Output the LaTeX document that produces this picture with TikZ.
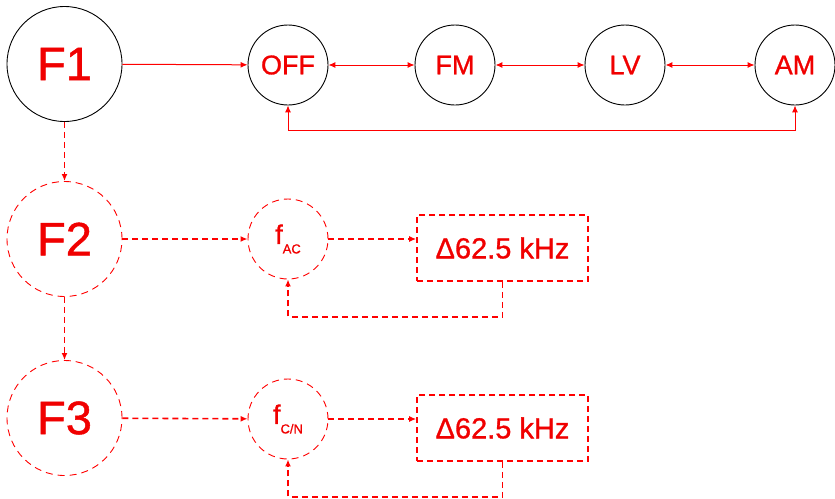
\documentclass[tikz,border=0pt]{standalone}
\usepackage{fontspec}
\setmainfont{Liberation Sans}
\newfontfamily\heavy{Liberation Sans}[FakeBold=1]
\usetikzlibrary{arrows.meta}
\definecolor{myred}{RGB}{240,0,0}
\tikzset{
  big/.style={circle,inner sep=0pt,minimum size=115pt,font=\heavy\fontsize{47}{47}\selectfont,text=myred},
  small/.style={circle,inner sep=0pt,minimum size=80pt,font=\heavy\fontsize{27}{27}\selectfont,text=myred},
  solidc/.style={draw=black,line width=0.9pt},
  dashc/.style={draw=red,line width=0.9pt,dash pattern=on 7pt off 5pt},
  dbox/.style={draw=red,line width=1.6pt,dash pattern=on 6pt off 4pt,minimum width=171pt,minimum height=66pt,inner sep=0pt,font=\heavy\fontsize{29}{29}\selectfont,text=myred},
  tip/.style={-{Latex[length=7pt,width=6pt]}},
  dtip/.style={{Latex[length=7pt,width=6pt]}-{Latex[length=7pt,width=6pt]}},
  conn/.style={draw=red,line width=1pt},
  dconn/.style={draw=red,line width=1.6pt,dash pattern=on 6pt off 4pt},
}
\newcommand{\mysub}[1]{\raisebox{-0.35em}{\fontsize{13}{13}\selectfont #1}}
\begin{document}
\begin{tikzpicture}[x=1pt,y=-1pt]
\useasboundingbox (0,0) rectangle (835,498);
% top row
\node[big,solidc] (f1) at (64.5,64) {F1};
\node[small,solidc] (off) at (288,65) {OFF};
\node[small,solidc] (fm) at (455,65) {FM};
\node[small,solidc] (lv) at (625,65) {LV};
\node[small,solidc] (am) at (795,65) {AM};
\draw[conn,tip] (f1) -- (off);
\draw[conn,dtip] (off) -- (fm);
\draw[conn,dtip] (fm) -- (lv);
\draw[conn,dtip] (lv) -- (am);
\draw[conn,dtip] (off.south) -- ++(0,25) -| (am.south);
% second row
\node[big,dashc] (f2) at (64.5,239) {F2};
\node[small,dashc] (fac) at (288,239) {f\mysub{AC}};
\node[dbox] (b1) at (502.5,248) {Δ62.5 kHz};
\draw[dconn,tip] (f1) -- (f2);
\draw[dconn,tip] (f2) -- (fac);
\draw[dconn,tip] (fac.east) -- (fac.east -| b1.west);
\draw[dconn,tip] (b1.south) -- ++(0,35) -| (fac.south);
% third row
\node[big,dashc] (f3) at (64.5,418) {F3};
\node[small,dashc] (fcn) at (288,419) {f\mysub{C/N}};
\node[dbox] (b2) at (502.5,428) {Δ62.5 kHz};
\draw[dconn,tip] (f2) -- (f3);
\draw[dconn,tip] (f3) -- (fcn);
\draw[dconn,tip] (fcn.east) -- (fcn.east -| b2.west);
\draw[dconn,tip] (b2.south) -- ++(0,35) -| (fcn.south);
\end{tikzpicture}
\end{document}
